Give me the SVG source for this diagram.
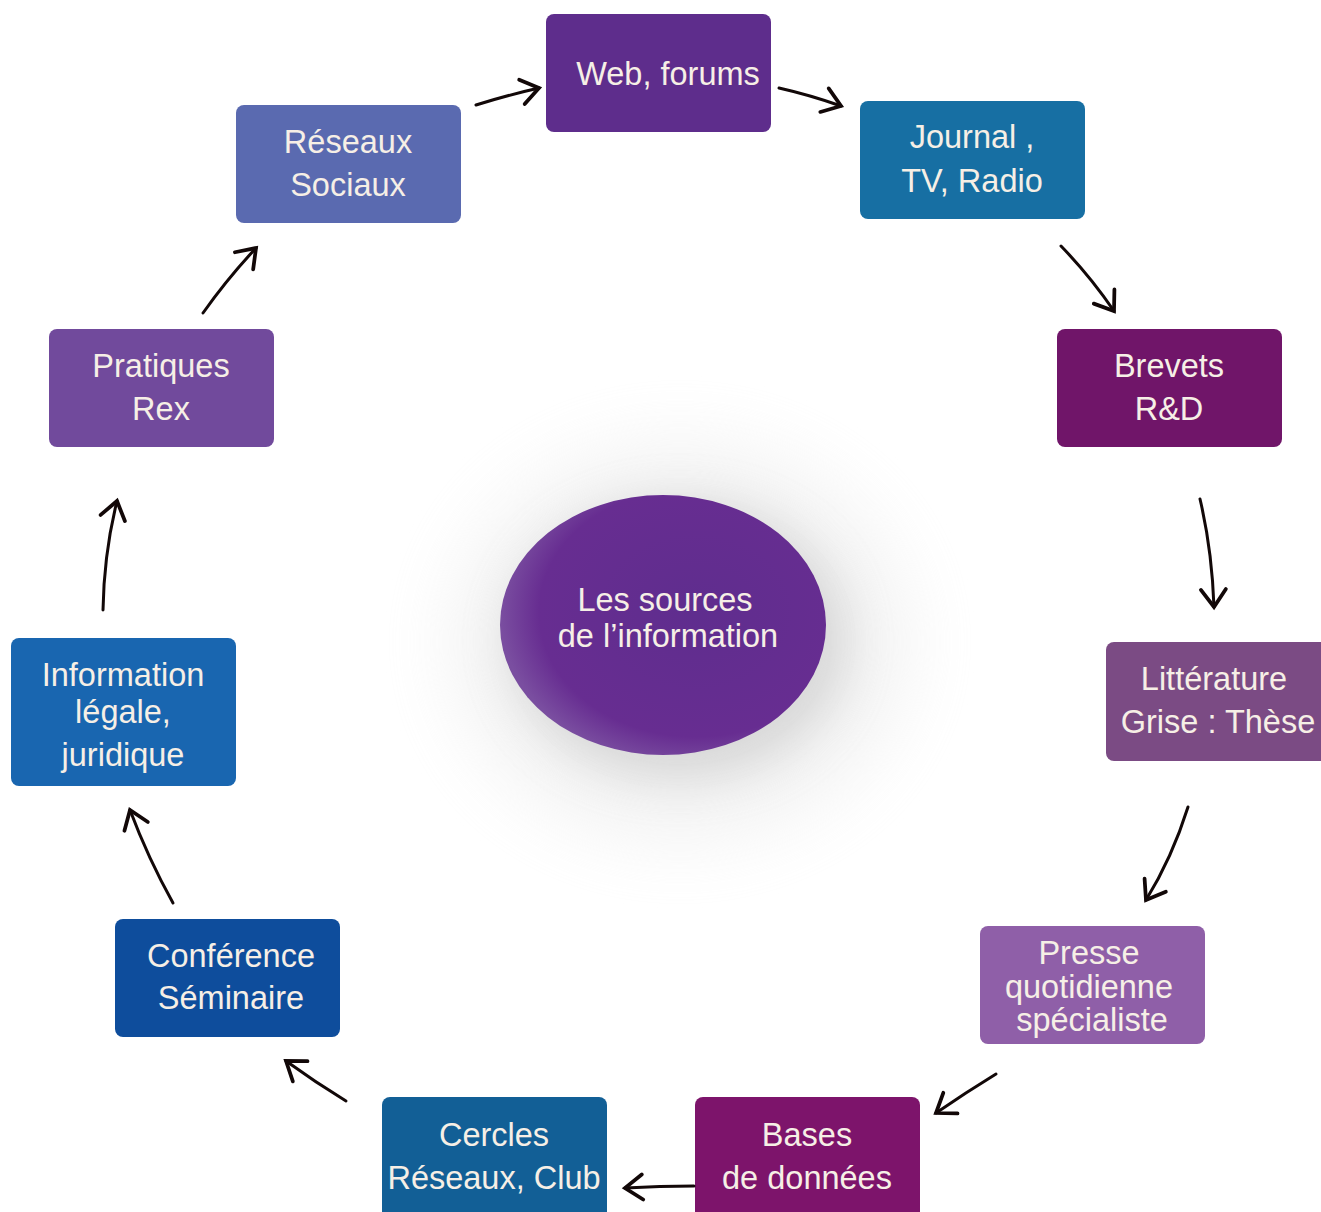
<svg xmlns="http://www.w3.org/2000/svg" width="1321" height="1212" viewBox="0 0 1321 1212">
<defs>
<style>
.box{stroke:none}
.lbl{font-family:"Liberation Sans","Open Sans",sans-serif;font-size:32.5px;fill:#f6efe6;text-anchor:middle}
.arr{fill:none;stroke:#120808;stroke-width:3;stroke-linecap:round;marker-end:url(#ah)}
</style>
<marker id="ah" markerUnits="userSpaceOnUse" markerWidth="30" markerHeight="30" viewBox="-16 -12 20 24" refX="0" refY="0" orient="auto">
<path d="M-14,-10 L0,0 L-14,10" fill="none" stroke="#120808" stroke-width="3" stroke-linecap="round" stroke-linejoin="miter"/>
</marker>
<radialGradient id="eg" cx="0.6" cy="0.45" r="0.6">
<stop offset="0" stop-color="#5f2d8e"/>
<stop offset="0.8" stop-color="#672d91"/>
<stop offset="1" stop-color="#7a4ea0"/>
</radialGradient>
<filter id="sh" x="-50%" y="-50%" width="200%" height="200%">
<feGaussianBlur stdDeviation="22"/>
</filter>
<filter id="glow" x="-50%" y="-50%" width="200%" height="200%">
<feGaussianBlur stdDeviation="35"/>
</filter>
</defs>
<rect width="1321" height="1212" fill="#ffffff"/>

<g id="center">
<ellipse cx="680" cy="642" rx="230" ry="200" fill="#e4e4e4" opacity="0.45" filter="url(#glow)"/>
<ellipse cx="678" cy="640" rx="170" ry="140" fill="#bfbfbf" opacity="0.5" filter="url(#sh)"/>
<ellipse cx="663" cy="625" rx="163" ry="130" fill="url(#eg)"/>
<text class="lbl" x="665" y="611">Les sources</text>
<text class="lbl" x="668" y="647">de l’information</text>
</g>

<g id="web"><rect class="box" x="546" y="14" width="225" height="118" rx="8" fill="#5e2d8c"/>
<text class="lbl" x="668" y="85">Web, forums</text></g>

<g id="journal"><rect class="box" x="860" y="101" width="225" height="118" rx="8" fill="#176fa3"/>
<text class="lbl" x="972" y="148">Journal ,</text><text class="lbl" x="972" y="192">TV, Radio</text></g>

<g id="brevets"><rect class="box" x="1057" y="329" width="225" height="118" rx="8" fill="#701569"/>
<text class="lbl" x="1169" y="377">Brevets</text><text class="lbl" x="1169" y="420">R&amp;D</text></g>

<g id="litterature"><rect class="box" x="1106" y="642" width="230" height="119" rx="8" fill="#7b4b84"/>
<text class="lbl" x="1214" y="690">Littérature</text><text class="lbl" x="1218" y="733">Grise : Thèse</text></g>

<g id="presse"><rect class="box" x="980" y="926" width="225" height="118" rx="8" fill="#8f5fa8"/>
<text class="lbl" x="1089" y="964">Presse</text><text class="lbl" x="1089" y="998">quotidienne</text><text class="lbl" x="1092" y="1031">spécialiste</text></g>

<g id="bases"><rect class="box" x="695" y="1097" width="225" height="130" rx="8" fill="#7d146b"/>
<text class="lbl" x="807" y="1146">Bases</text><text class="lbl" x="807" y="1189">de données</text></g>

<g id="cercles"><rect class="box" x="382" y="1097" width="225" height="130" rx="8" fill="#125f96"/>
<text class="lbl" x="494" y="1146">Cercles</text><text class="lbl" x="494" y="1189">Réseaux, Club</text></g>

<g id="conference"><rect class="box" x="115" y="919" width="225" height="118" rx="8" fill="#0e4d9c"/>
<text class="lbl" x="231" y="967">Conférence</text><text class="lbl" x="231" y="1009">Séminaire</text></g>

<g id="information"><rect class="box" x="11" y="638" width="225" height="148" rx="8" fill="#1966b0"/>
<text class="lbl" x="123" y="686">Information</text><text class="lbl" x="123" y="723">légale,</text><text class="lbl" x="123" y="766">juridique</text></g>

<g id="pratiques"><rect class="box" x="49" y="329" width="225" height="118" rx="8" fill="#714a9c"/>
<text class="lbl" x="161" y="377">Pratiques</text><text class="lbl" x="161" y="420">Rex</text></g>

<g id="reseaux"><rect class="box" x="236" y="105" width="225" height="118" rx="8" fill="#5a6ab0"/>
<text class="lbl" x="348" y="153">Réseaux</text><text class="lbl" x="348" y="196">Sociaux</text></g>

<g id="connectors">
<path class="arr" d="M476,105 Q508,95 539,88"/>
<path class="arr" d="M779,88 Q810,95 841,106"/>
<path class="arr" d="M1061,246 Q1090,276 1114,311"/>
<path class="arr" d="M1200,499 Q1212,550 1214,607"/>
<path class="arr" d="M1188,807 Q1172,858 1146,900"/>
<path class="arr" d="M996,1074 Q965,1093 936,1113"/>
<path class="arr" d="M694,1186 Q660,1186 625,1188"/>
<path class="arr" d="M346,1101 Q315,1082 286,1061"/>
<path class="arr" d="M173,903 Q148,858 130,810"/>
<path class="arr" d="M103,610 Q104,553 117,501"/>
<path class="arr" d="M203,313 Q227,279 256,248"/>
</g>
</svg>
